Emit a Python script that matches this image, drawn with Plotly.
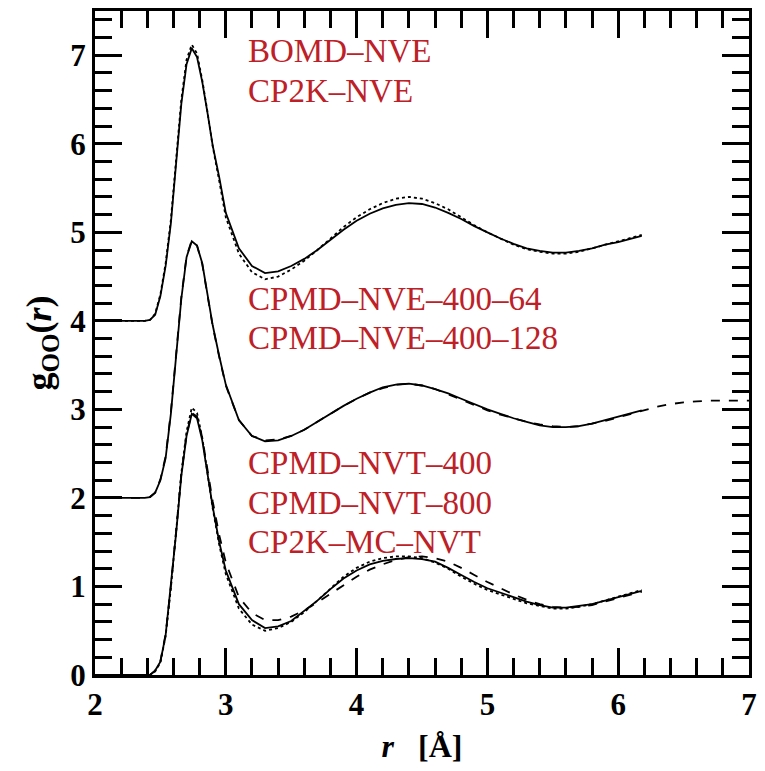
import plotly.graph_objects as go

# ---------------- data (raw g_OO(r)) ----------------
r = [2.0, 2.38, 2.42, 2.46, 2.50, 2.54, 2.58, 2.62, 2.66, 2.70, 2.74, 2.78, 2.82,
     2.86, 2.90, 2.95, 3.0, 3.1, 3.2, 3.3, 3.4, 3.5, 3.6, 3.7, 3.8, 3.9, 4.0, 4.1,
     4.2, 4.3, 4.4, 4.5, 4.6, 4.7, 4.8, 4.9, 5.0, 5.1, 5.2, 5.3, 5.4, 5.5, 5.6,
     5.7, 5.8, 5.9, 6.0, 6.1, 6.18]

# group 1 (offset +4)
g_bomd_nve = [0, 0, 0.01, 0.07, 0.28, 0.62, 1.10, 1.80, 2.45, 2.90, 3.08, 2.98, 2.70,
              2.35, 1.98, 1.62, 1.22, 0.82, 0.62, 0.54, 0.56, 0.62, 0.70, 0.80, 0.92,
              1.03, 1.13, 1.21, 1.27, 1.31, 1.33, 1.32, 1.28, 1.22, 1.15, 1.07, 1.00,
              0.93, 0.87, 0.82, 0.79, 0.77, 0.77, 0.79, 0.82, 0.86, 0.89, 0.93, 0.96]
g_cp2k_nve = [0, 0, 0.01, 0.08, 0.30, 0.65, 1.14, 1.85, 2.50, 2.95, 3.12, 3.02, 2.72,
              2.36, 1.97, 1.58, 1.17, 0.76, 0.55, 0.47, 0.50, 0.58, 0.68, 0.80, 0.93,
              1.06, 1.17, 1.26, 1.33, 1.38, 1.40, 1.38, 1.33, 1.26, 1.17, 1.08, 1.00,
              0.93, 0.86, 0.81, 0.78, 0.76, 0.76, 0.78, 0.82, 0.86, 0.90, 0.94, 0.97]

# group 2 (offset +2)
g_cpmd_nve_128 = [0, 0, 0.01, 0.06, 0.20, 0.45, 0.95, 1.60, 2.25, 2.72, 2.90, 2.85, 2.65,
                  2.30, 1.95, 1.60, 1.28, 0.88, 0.70, 0.64, 0.65, 0.70, 0.77, 0.86, 0.95,
                  1.04, 1.12, 1.19, 1.25, 1.28, 1.29, 1.27, 1.23, 1.18, 1.12, 1.06, 1.00,
                  0.95, 0.90, 0.86, 0.82, 0.80, 0.80, 0.81, 0.84, 0.88, 0.92, 0.96, 0.99]
r_long = r[:-1] + [6.2, 6.3, 6.4, 6.5, 6.6, 6.7, 6.8, 6.9, 7.0]
g_cpmd_nve_64 = [0, 0, 0.01, 0.06, 0.21, 0.47, 0.97, 1.62, 2.27, 2.73, 2.91, 2.85, 2.64,
                 2.29, 1.94, 1.59, 1.27, 0.88, 0.70, 0.65, 0.66, 0.70, 0.77, 0.86, 0.95,
                 1.04, 1.12, 1.19, 1.24, 1.28, 1.29, 1.27, 1.23, 1.17, 1.11, 1.05, 0.99,
                 0.94, 0.90, 0.86, 0.83, 0.81, 0.80, 0.81, 0.84, 0.87, 0.91, 0.95,
                 0.99, 1.03, 1.06, 1.08, 1.09, 1.10, 1.10, 1.10, 1.10]

# group 3 (offset 0)
g_cpmd_nvt_400 = [0, 0, 0.0, 0.05, 0.15, 0.45, 1.00, 1.60, 2.25, 2.70, 2.95, 2.90, 2.65,
                  2.28, 1.90, 1.50, 1.18, 0.80, 0.62, 0.53, 0.55, 0.61, 0.72, 0.84, 0.97,
                  1.09, 1.18, 1.25, 1.29, 1.31, 1.32, 1.31, 1.28, 1.21, 1.13, 1.05, 0.98,
                  0.93, 0.88, 0.83, 0.79, 0.76, 0.76, 0.78, 0.80, 0.84, 0.88, 0.92, 0.95]
g_cpmd_nvt_800 = [0, 0, 0.0, 0.05, 0.16, 0.46, 1.00, 1.62, 2.27, 2.72, 2.96, 2.92, 2.68,
                  2.32, 1.96, 1.58, 1.27, 0.88, 0.70, 0.62, 0.62, 0.66, 0.73, 0.82, 0.92,
                  1.02, 1.11, 1.19, 1.25, 1.30, 1.33, 1.34, 1.32, 1.28, 1.21, 1.13, 1.05,
                  0.98, 0.91, 0.85, 0.80, 0.77, 0.76, 0.77, 0.79, 0.83, 0.87, 0.91, 0.94]
g_cp2k_mc_nvt = [0, 0, 0.0, 0.04, 0.14, 0.44, 0.98, 1.62, 2.28, 2.75, 3.02, 2.96, 2.68,
                 2.28, 1.88, 1.47, 1.14, 0.75, 0.57, 0.50, 0.53, 0.60, 0.71, 0.84, 0.98,
                 1.11, 1.21, 1.28, 1.32, 1.34, 1.34, 1.32, 1.27, 1.20, 1.11, 1.03, 0.96,
                 0.91, 0.86, 0.81, 0.78, 0.75, 0.75, 0.77, 0.80, 0.84, 0.88, 0.92, 0.96]

offsets = [4.0, 2.0, 0.0]

labels = ["BOMD–NVE", "CP2K–NVE",
          "CPMD–NVE–400–64", "CPMD–NVE–400–128",
          "CPMD–NVT–400", "CPMD–NVT–800", "CP2K–MC–NVT"]
label_x = [3.17] * 7
label_y = [7.02, 6.57, 4.22, 3.77, 2.36, 1.91, 1.47]

x_range = [2, 7]
y_range = [0, 7.5]

# ---------------- figure ----------------
series = [
    (r, g_bomd_nve, offsets[0], "solid"),
    (r, g_cp2k_nve, offsets[0], "dot"),
    (r, g_cpmd_nve_128, offsets[1], "solid"),
    (r_long, g_cpmd_nve_64, offsets[1], "dash"),
    (r, g_cpmd_nvt_400, offsets[2], "solid"),
    (r, g_cpmd_nvt_800, offsets[2], "dash"),
    (r, g_cp2k_mc_nvt, offsets[2], "dot"),
]

fig = go.Figure()
for xs, ys, off, dash in series:
    fig.add_trace(go.Scatter(
        x=xs, y=[v + off for v in ys], mode="lines",
        line=dict(color="black", width=1.8, dash=dash),
        showlegend=False))

# red run labels as a text trace
fig.add_trace(go.Scatter(
    x=label_x, y=label_y, text=labels, mode="text", textposition="middle right",
    textfont=dict(family="Liberation Serif", size=33, color="#bd2127"),
    cliponaxis=False, showlegend=False))


def axis_style(rng, title, standoff, size):
    return dict(
        range=rng, showgrid=False, zeroline=False, showline=True, linecolor="black",
        linewidth=3, mirror="allticks", ticks="inside", ticklen=27, tickwidth=2.5,
        tickcolor="black", tickmode="linear", dtick=1,
        tickfont=dict(family="Liberation Serif", size=31, color="black", weight="bold"),
        minor=dict(dtick=0.2, ticks="inside", ticklen=17, tickcolor="black"),
        title=dict(text=title, standoff=standoff,
                   font=dict(family="Liberation Serif", size=size, color="black")),
    )


fig.update_layout(
    width=765, height=771, margin=dict(l=95, r=8, t=10, b=96),
    plot_bgcolor="white", paper_bgcolor="white",
    xaxis=axis_style(x_range, "<b><i>r</i>\u00a0\u00a0\u00a0[Å]</b>", 14, 32),
    yaxis=axis_style(y_range, "<b>g<sub>OO</sub>(<i>r</i>)</b>", 8, 36),
)

fig.write_html("out.html")
